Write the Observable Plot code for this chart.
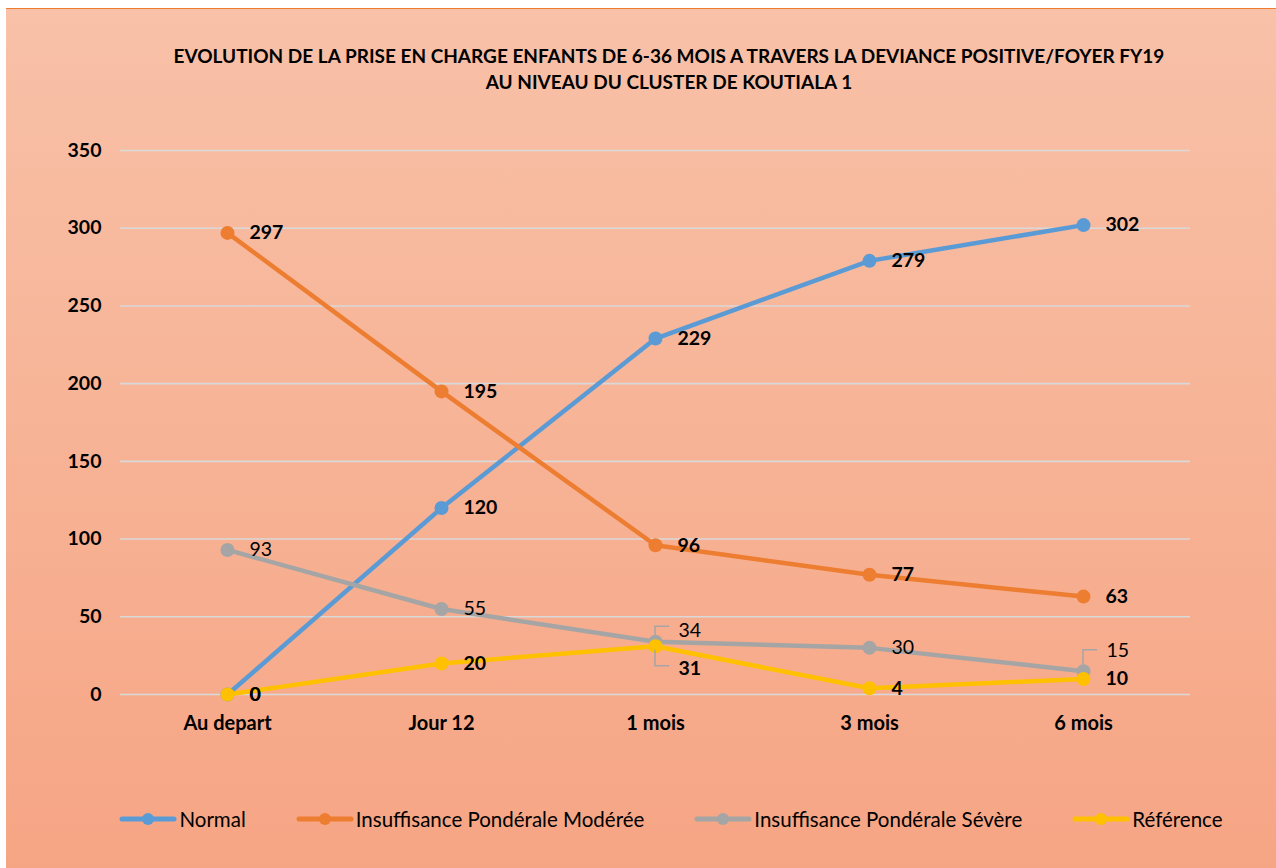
<!DOCTYPE html>
<html>
<head>
<meta charset="utf-8">
<script src="https://cdn.jsdelivr.net/npm/d3@7"></script>
<script src="https://cdn.jsdelivr.net/npm/@observablehq/plot@0.6"></script>
<style>
  html, body { margin: 0; padding: 0; background: #fff; }
  #frame {
    position: absolute; left: 6px; top: 8px; width: 1270px; height: 860px;
    background: linear-gradient(#F8C1A8, #F6A584);
    border-top: 1.5px solid #ED7D31;
    font-family: Lato, "Open Sans", sans-serif;
    overflow: hidden;
  }
  #title {
    position: absolute; left: 0; top: 34px; width: 1326px; text-align: center;
    font-weight: bold; font-size: 19px; line-height: 26px; color: #000;
  }
  #chart { position: absolute; left: 0; top: 110px; }
  #legend {
    position: absolute; left: 0; top: 790px; width: 1270px; height: 40px;
    display: flex; justify-content: center; align-items: center; gap: 50px;
    font-size: 20.5px; color: #000; padding-left: 60px; box-sizing: border-box;
  }
  .item { display: flex; align-items: center; gap: 2px; }
</style>
</head>
<body>
<div id="frame">
  <div id="title">EVOLUTION DE LA PRISE EN CHARGE ENFANTS DE 6-36 MOIS A TRAVERS LA DEVIANCE POSITIVE/FOYER FY19<br>AU NIVEAU DU CLUSTER DE KOUTIALA 1</div>
  <div id="chart"></div>
  <div id="legend"></div>
</div>
<script>
const categories = ["Au depart", "Jour 12", "1 mois", "3 mois", "6 mois"];
const seriesNames = ["Normal", "Insuffisance Pondérale Modérée", "Insuffisance Pondérale Sévère", "Référence"];
const normal = [0, 120, 229, 279, 302];
const moderee = [297, 195, 96, 77, 63];
const severe = [93, 55, 34, 30, 15];
const reference = [0, 20, 31, 4, 10];
const colors = ["#5B9BD5", "#ED7D31", "#A5A5A5", "#FFC000"];
const yTicks = [0, 50, 100, 150, 200, 250, 300, 350];

const seriesValues = [normal, moderee, severe, reference];
const rows = seriesValues.flatMap((vals, s) =>
  vals.map((v, i) => ({series: seriesNames[s], cat: categories[i], value: v, s, i})));

const boldSeries = new Set([seriesNames[0], seriesNames[1], seriesNames[3]]);
// labels with leader lines (placed off the point)
const isSpecial = d => (d.s === 2 && (d.i === 2 || d.i === 4)) || (d.s === 3 && d.i === 2);
const FS = 19.5;

const marks = [
  Plot.gridY(yTicks, {stroke: "#D9D9D9", strokeOpacity: 1, strokeWidth: 1.6}),
  Plot.axisY(yTicks, {tickSize: 0, tickPadding: 19, fontWeight: "bold", fontSize: FS, label: null}),
  Plot.axisX({tickSize: 0, tickPadding: 21, fontWeight: "bold", fontSize: 20, label: null})
];
seriesNames.forEach((name, s) => {
  const d = rows.filter(r => r.s === s);
  marks.push(Plot.line(d, {x: "cat", y: "value", stroke: colors[s], strokeWidth: 4.5, strokeLinejoin: "round", strokeLinecap: "round"}));
  marks.push(Plot.dot(d, {x: "cat", y: "value", r: 7, fill: colors[s], stroke: "none"}));
});
seriesNames.forEach((name, s) => {
  const d = rows.filter(r => r.s === s && !isSpecial(r));
  marks.push(Plot.text(d, {x: "cat", y: "value", text: "value", dx: 22, textAnchor: "start",
    fontSize: FS, fontWeight: boldSeries.has(name) ? "bold" : "normal", fill: "#000"}));
});
marks.push(Plot.text(rows.filter(r => r.s === 2 && r.i === 2), {x: "cat", y: "value", text: "value", dx: 23, dy: -11, textAnchor: "start", fontSize: FS, fill: "#000"}));
marks.push(Plot.text(rows.filter(r => r.s === 2 && r.i === 4), {x: "cat", y: "value", text: "value", dx: 23, dy: -20, textAnchor: "start", fontSize: FS, fill: "#000"}));
marks.push(Plot.text(rows.filter(r => r.s === 3 && r.i === 2), {x: "cat", y: "value", text: "value", dx: 23, dy: 22, textAnchor: "start", fontSize: FS, fontWeight: "bold", fill: "#000"}));

const chart = Plot.plot({
  width: 1270, height: 625,
  marginLeft: 114, marginRight: 86, marginTop: 31, marginBottom: 50,
  style: {background: "transparent", fontFamily: "Lato, 'Open Sans', sans-serif", color: "#000", overflow: "visible"},
  x: {type: "point", domain: categories, padding: 0.5},
  y: {domain: [0, 350]},
  marks
});
document.getElementById("chart").appendChild(chart);

// leader lines for the displaced labels
const xs = chart.scale("x"), ys = chart.scale("y");
const svg = d3.select(chart);
const leaders = [
  {r: rows.find(r => r.s === 2 && r.i === 2), up: true, off: 15},
  {r: rows.find(r => r.s === 3 && r.i === 2), up: false, off: 20},
  {r: rows.find(r => r.s === 2 && r.i === 4), up: true, off: 21}
];
leaders.forEach(({r, up, off}) => {
  const px = xs.apply(r.cat), py = ys.apply(r.value);
  const y2 = up ? py - off : py + off;
  const y1 = up ? py - 4 : py + 4;
  svg.append("path")
    .attr("d", `M${px},${y1}V${y2}H${px + 14}`)
    .attr("fill", "none").attr("stroke", "#A5A5A5").attr("stroke-width", 1.5);
});

// legend
const legend = d3.select("#legend");
seriesNames.forEach((name, s) => {
  const it = legend.append("div").attr("class", "item");
  const sv = it.append("svg").attr("width", 58).attr("height", 14);
  sv.append("line").attr("x1", 3).attr("x2", 55).attr("y1", 7).attr("y2", 7)
    .attr("stroke", colors[s]).attr("stroke-width", 5).attr("stroke-linecap", "round");
  sv.append("circle").attr("cx", 29).attr("cy", 7).attr("r", 6).attr("fill", colors[s]);
  it.append("span").text(name);
});
</script>
</body>
</html>
